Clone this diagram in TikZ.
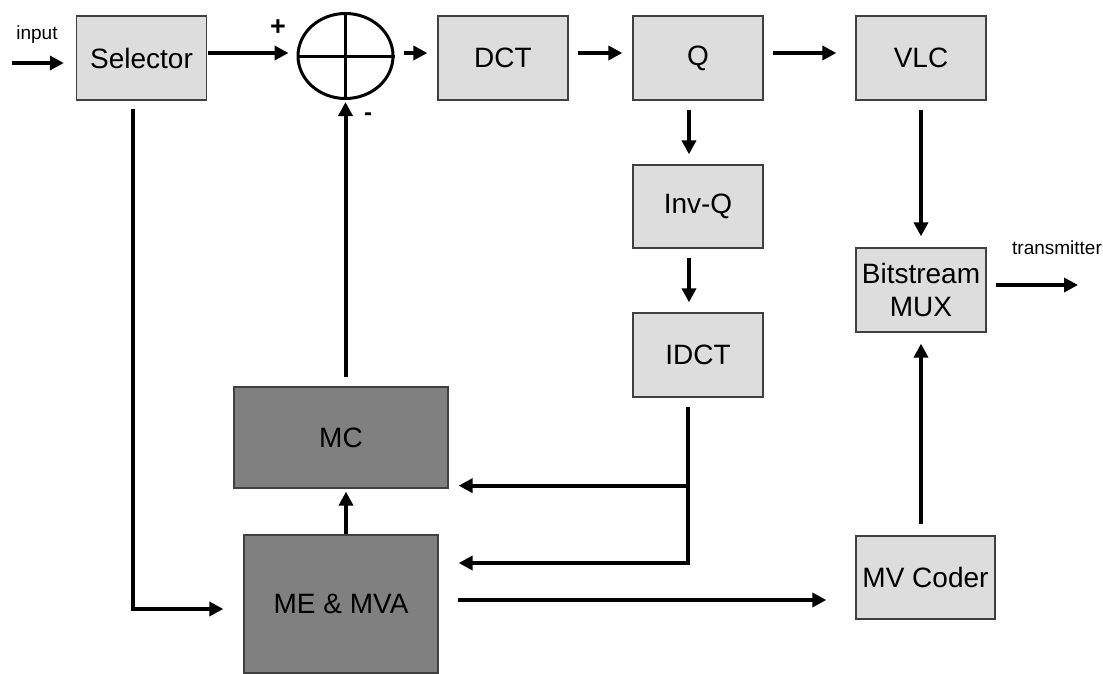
\documentclass[tikz,border=0pt]{standalone}
\usepackage{fontspec}
\setmainfont{Liberation Sans}
\usetikzlibrary{arrows.meta,shapes.geometric}
\definecolor{boxlight}{HTML}{DDDDDD}
\definecolor{boxdark}{HTML}{808080}
\definecolor{boxline}{HTML}{404040}
\begin{document}
\begin{tikzpicture}[x=1pt,y=-1pt,
    blk/.style={draw=boxline, line width=1.3pt, fill=boxlight, inner sep=0pt,
      minimum width=130pt, minimum height=84pt, align=center,
      font=\fontsize{28}{33}\selectfont},
    darkblk/.style={blk, fill=boxdark},
    sig/.style={line width=4pt, line join=miter,
      -{Triangle[length=14pt,width=14pt]}, shorten <=9pt, shorten >=10pt},
    lbl/.style={inner sep=0pt, font=\fontsize{19}{22}\selectfont}]
    \useasboundingbox (0,0) rectangle (1103,673);
    % Forward path
    \node[blk] (sel) at (141.5,58) {Selector};
    \node[draw, line width=3pt, ellipse, minimum width=95pt, minimum height=85pt,
      inner sep=0pt] (sum) at (345.5,56) {};
    \draw[line width=3pt] (sum.north) -- (sum.south) (sum.west) -- (sum.east);
    \node[blk] (dct) at (503,58) {DCT};
    \node[blk] (q) at (698,58) {Q};
    \node[blk] (vlc) at (921,58) {VLC};
    % Inverse path
    \node[blk, minimum height=83pt] (invq) at (698,206.5) {Inv-Q};
    \node[blk] (idct) at (698,355) {IDCT};
    % Output
    \node[blk] (mux) at (921,290) {Bitstream\\MUX};
    \node[blk, minimum width=139pt, minimum height=83pt] (mvc) at (925.5,577.5) {MV Coder};
    % Motion blocks
    \node[darkblk, minimum width=214pt, minimum height=101pt] (mc) at (341,437.5) {MC};
    \node[darkblk, minimum width=194pt, minimum height=138pt] (me) at (341,604) {ME \& MVA};
    % Labels
    \coordinate (inp) at (12,63);
    \coordinate (out) at (1078,285);
    \node[lbl] (inlbl) at (37,35) {input};
    \node[lbl] (txlbl) at (1057,248) {transmitter};
    \node[inner sep=0pt, font=\bfseries\fontsize{27}{30}\selectfont] (plus) at (278,28) {+};
    \node[inner sep=0pt, font=\bfseries\fontsize{24}{26}\selectfont] (minus) at (368,117) {-};
    % Arrows
    \draw[sig, shorten <=0pt, shorten >=12pt] (inp) -- (inp -| sel.west);
    \draw[sig, shorten <=1pt, shorten >=8pt] ([yshift=5]sel.east) -- ([yshift=3]sum.west);
    \draw[sig] ([yshift=3]sum.east) -- ([yshift=5]dct.west);
    \draw[sig] ([yshift=5]dct.east) -- ([yshift=5]q.west);
    \draw[sig, shorten >=19pt] ([yshift=5]q.east) -- ([yshift=5]vlc.west);
    \draw[sig] ([xshift=-9]q.south) -- ([xshift=-9]invq.north);
    \draw[sig] ([xshift=-9]invq.south) -- ([xshift=-9]idct.north);
    \draw[sig, shorten >=11pt] (vlc.south) -- (mux.north);
    \draw[sig, shorten <=11pt, shorten >=11pt] (mux.south |- mvc.north) -- (mux.south);
    \draw[sig, shorten <=9pt, shorten >=0pt] ([yshift=5]mux.east) -- (out);
    % Feedback
    \draw[sig, shorten >=20pt] ([xshift=-10]idct.south) |- ([yshift=41]me.east);
    \coordinate (fb) at ([xshift=-10,yshift=-88]idct.south);
    \draw[sig, shorten <=0pt] (fb) -- (fb -| mc.east);
    \draw[sig, shorten <=0pt, shorten >=3pt] ([xshift=5]me.north) -- ([xshift=5]mc.south);
    \draw[sig, shorten >=2pt] (sum.south |- mc.north) -- (sum.south);
    \draw[sig, shorten <=8pt, shorten >=20pt] ([xshift=-8.5]sel.south) |- ([yshift=-5]me.west);
    \draw[sig, shorten <=19pt, shorten >=29pt] ([yshift=4]me.east) -- ([yshift=4]me.east -| mvc.west);
\end{tikzpicture}
\end{document}
